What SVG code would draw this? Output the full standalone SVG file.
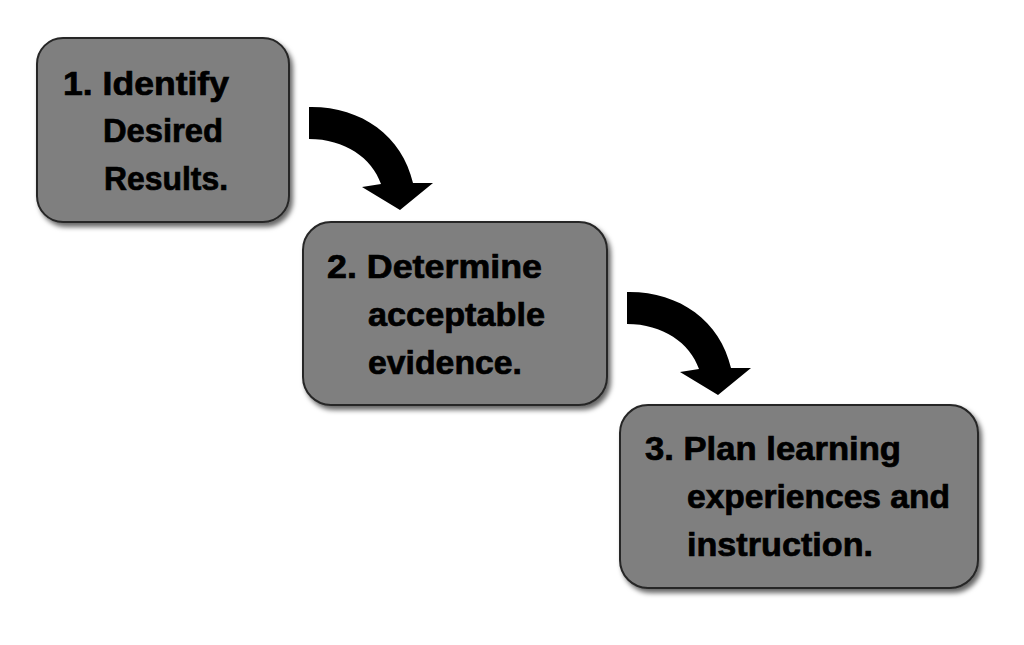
<svg xmlns="http://www.w3.org/2000/svg" width="1024" height="645" viewBox="0 0 1024 645">
  <defs>
    <filter id="shadow" x="-10%" y="-10%" width="125%" height="130%">
      <feDropShadow dx="3" dy="4" stdDeviation="2.5" flood-color="#000" flood-opacity="0.6"/>
    </filter>
    <path id="curvedArrow" d="M 309,107 C 360,106 402,135 413,183 L 433,183 L 400,210 L 362,187 L 381,184 C 372,158 345,139 309,139 Z"/>
  </defs>
  <style>
    .box { fill: #7f7f7f; stroke: #262626; stroke-width: 2; filter: url(#shadow); }
    .label { font-family: "Liberation Sans", Arial, sans-serif; font-weight: bold; font-size: 33px; fill: #000000; stroke: #000000; stroke-width: 0.7; }
    .arrow { fill: #000000; }
  </style>
  <rect width="1024" height="645" fill="#ffffff"/>

  <g id="connectors">
    <use href="#curvedArrow" class="arrow"/>
    <use href="#curvedArrow" class="arrow" transform="translate(318,185)"/>
  </g>

  <g id="node1">
    <rect class="box" x="37" y="38" width="252" height="184" rx="26" ry="26"/>
    <text class="label" x="63" y="95" textLength="166" lengthAdjust="spacingAndGlyphs">1. Identify</text>
    <text class="label" x="103" y="142" textLength="120" lengthAdjust="spacingAndGlyphs">Desired</text>
    <text class="label" x="104" y="190" textLength="124" lengthAdjust="spacingAndGlyphs">Results.</text>
  </g>

  <g id="node2">
    <rect class="box" x="303" y="222" width="304" height="183" rx="28" ry="28"/>
    <text class="label" x="327" y="278" textLength="215" lengthAdjust="spacingAndGlyphs">2. Determine</text>
    <text class="label" x="368" y="326" textLength="177" lengthAdjust="spacingAndGlyphs">acceptable</text>
    <text class="label" x="368" y="374" textLength="154" lengthAdjust="spacingAndGlyphs">evidence.</text>
  </g>

  <g id="node3">
    <rect class="box" x="620" y="405" width="358" height="183" rx="28" ry="28"/>
    <text class="label" x="645" y="460" textLength="256" lengthAdjust="spacingAndGlyphs">3. Plan learning</text>
    <text class="label" x="687" y="508" textLength="263" lengthAdjust="spacingAndGlyphs">experiences and</text>
    <text class="label" x="687" y="556" textLength="186" lengthAdjust="spacingAndGlyphs">instruction.</text>
  </g>
</svg>
